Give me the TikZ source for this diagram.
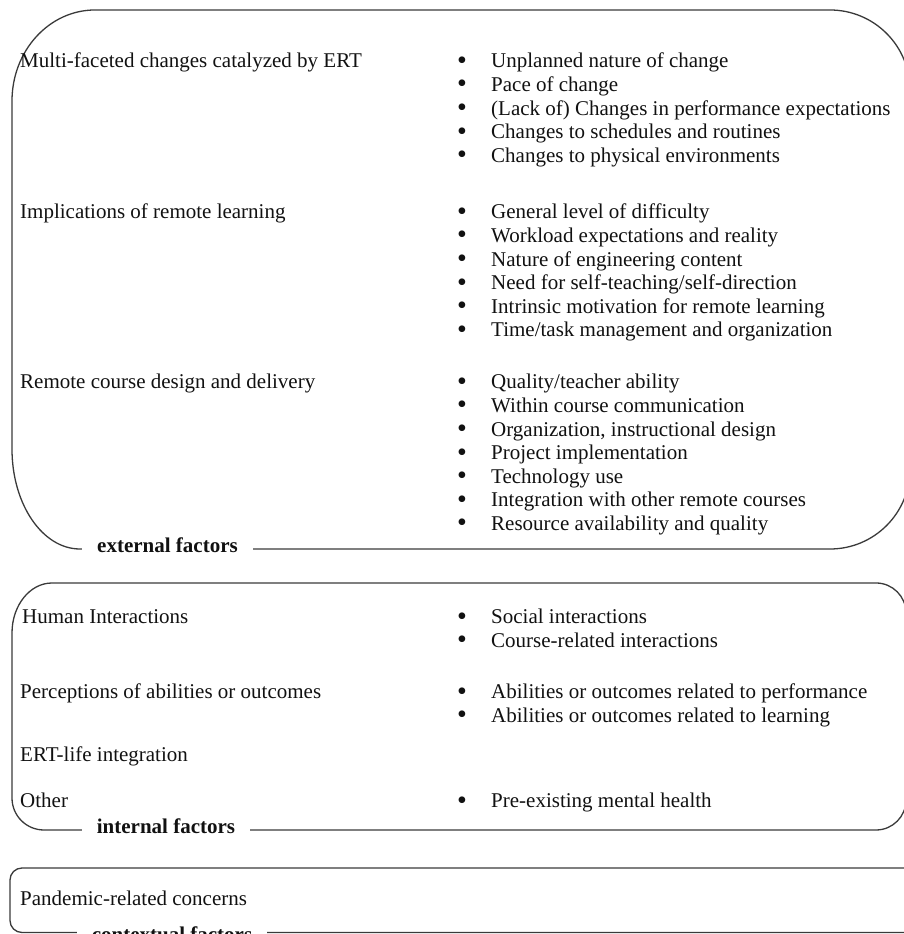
\documentclass[tikz,border=0pt]{standalone}
\usepackage{fontspec}
\setmainfont{Liberation Serif}
\usepackage{xcolor}
\definecolor{cLine}{HTML}{3A3A3A}
\definecolor{cText}{HTML}{111111}
\usepackage{tikz}
\tikzset{
  frame-line/.style={draw=cLine,line width=1.3pt},
  item-label/.style={anchor=base west,inner sep=0pt,text height=15pt,
    text depth=5pt,font=\fontsize{21}{24}\selectfont,text=cText},
  item-dot/.style={inner sep=0pt,label distance=24pt,
    font=\fontsize{28}{24}\selectfont,text=cText},
  item-text/.style={item-label,label={[item-dot]left:\textbullet}},
  frame-label/.style={anchor=base,fill=white,inner xsep=15pt,inner ysep=3pt,
    font=\fontsize{21}{24}\selectfont\bfseries,text=cText},
}

\begin{document}
\begin{tikzpicture}[x=1pt,y=1pt]
  \useasboundingbox (0,0) rectangle (904,934);
  % external factors
  \draw[frame-line] (95,924) -- (830,924) arc[start angle=90,end angle=0,radius=80pt]
    -- (910,465) arc[start angle=0,end angle=-90,radius=80pt]
    -- (80,385) arc[start angle=270,end angle=180,x radius=68pt,y radius=100pt]
    -- (12,833) arc[start angle=180,end angle=90,x radius=83pt,y radius=91pt];
  \node[frame-label] (lbl-external) at (167.5,381) {external factors};

  \node[item-label] (lbl-changes) at (20,866) {Multi-faceted changes catalyzed by ERT};
  \node[item-text] (it-unplanned) at (491,866) {Unplanned nature of change};
  \node[item-text] (it-pace) at (491,842.4) {Pace of change};
  \node[item-text] (it-expect) at (491,818.8) {(Lack of) Changes in performance expectations};
  \node[item-text] (it-schedule) at (491,795.2) {Changes to schedules and routines};
  \node[item-text] (it-physical) at (491,771.6) {Changes to physical environments};

  \node[item-label] (lbl-remote) at (20,715) {Implications of remote learning};
  \node[item-text] (it-difficulty) at (491,715) {General level of difficulty};
  \node[item-text] (it-workload) at (491,691.4) {Workload expectations and reality};
  \node[item-text] (it-content) at (491,667.8) {Nature of engineering content};
  \node[item-text] (it-selfteach) at (491,644.2) {Need for self-teaching/self-direction};
  \node[item-text] (it-motivation) at (491,620.6) {Intrinsic motivation for remote learning};
  \node[item-text] (it-timetask) at (491,597) {Time/task management and organization};

  \node[item-label] (lbl-course) at (20,545) {Remote course design and delivery};
  \node[item-text] (it-quality) at (491,545) {Quality/teacher ability};
  \node[item-text] (it-comm) at (491,521.4) {Within course communication};
  \node[item-text] (it-design) at (491,497.8) {Organization, instructional design};
  \node[item-text] (it-project) at (491,474.2) {Project implementation};
  \node[item-text] (it-tech) at (491,450.6) {Technology use};
  \node[item-text] (it-integration) at (491,427) {Integration with other remote courses};
  \node[item-text] (it-resource) at (491,403.4) {Resource availability and quality};

  % internal factors
  \draw[frame-line] (52,351) -- (876,351) arc[start angle=90,end angle=0,radius=30pt]
    -- (906,134) arc[start angle=0,end angle=-90,radius=30pt]
    -- (44,104) arc[start angle=270,end angle=180,radius=32pt]
    -- (12,301) arc[start angle=180,end angle=90,x radius=40pt,y radius=50pt];
  \node[frame-label] (lbl-internal) at (166,100) {internal factors};

  \node[item-label] (lbl-human) at (22,310) {Human Interactions};
  \node[item-text] (it-social) at (491,310) {Social interactions};
  \node[item-text] (it-courserel) at (491,286.4) {Course-related interactions};
  \node[item-label] (lbl-percept) at (20,235) {Perceptions of abilities or outcomes};
  \node[item-text] (it-perform) at (491,235) {Abilities or outcomes related to performance};
  \node[item-text] (it-learning) at (491,211.4) {Abilities or outcomes related to learning};
  \node[item-label] (lbl-life) at (20,172) {ERT-life integration};
  \node[item-label] (lbl-other) at (20,126) {Other};
  \node[item-text] (it-mental) at (491,126) {Pre-existing mental health};

  % contextual factors
  \draw[frame-line,rounded corners=12pt] (10,1.5) rectangle (918,66);
  \node[frame-label] (lbl-context) at (172,-8) {contextual factors};
  \node[item-label] (lbl-pandemic) at (20,28) {Pandemic-related concerns};
\end{tikzpicture}
\end{document}
